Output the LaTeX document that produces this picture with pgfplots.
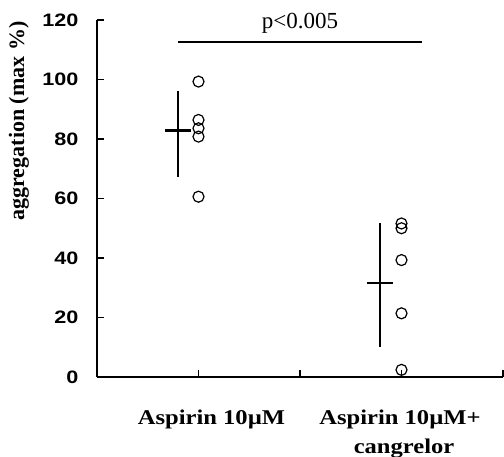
\documentclass[border=0pt]{standalone}
\usepackage{fontspec}
\setmainfont{Liberation Serif}
\newfontfamily\ticksans[FakeStretch=1.2]{Liberation Sans}
\newfontfamily\catserif[FakeStretch=1.17]{Liberation Serif}
\usepackage{pgfplots}
\pgfplotsset{compat=1.18}
\begin{document}
\begin{tikzpicture}[x=1pt,y=1pt]
  % donnees: agregation plaquettaire (max %)
  \begin{axis}[
      scale only axis,
      width=406pt, height=357pt,
      xmin=0, xmax=4, ymin=0, ymax=120,
      axis lines=left,
      axis line style={line width=2.2pt, -},
      xtick={1,2,3,4}, xticklabels={},
      ytick={0,20,...,120},
      tick style={line width=1.8pt, black},
      tick align=inside,
      major tick length=7pt,
      yticklabel style={font=\ticksans\bfseries\fontsize{18}{18}\selectfont, anchor=east, xshift=-15pt},
      /pgf/number format/assume math mode=true,
      clip=false,
    ]
    % points individuels
    \addplot[only marks, mark=o, mark size=5.5pt, mark options={line width=1.2pt}]
      coordinates {(1,99.3) (1,86.4) (1,83.6) (1,80.8) (1,60.6)};
    \addplot[only marks, mark=o, mark size=5.5pt, mark options={line width=1.2pt}]
      coordinates {(3,51.6) (3,50.0) (3,39.3) (3,21.4) (3,2.4)};
    % moyenne +/- ET
    \addplot[line width=2.4pt] coordinates {(0.80,67.3) (0.80,96.2)};
    \addplot[line width=2.4pt] coordinates {(0.67,82.8) (0.93,82.8)};
    \addplot[line width=2.4pt] coordinates {(2.79,10.2) (2.79,51.6)};
    \addplot[line width=2.4pt] coordinates {(2.66,31.5) (2.92,31.5)};
    % barre de significativite
    \addplot[line width=1.6pt] coordinates {(0.80,112.6) (3.20,112.6)};
    \node[font=\fontsize{23}{23}\selectfont, anchor=base] at (axis cs:2,117.3) {p<0.005};
    \node[font=\bfseries\fontsize{22}{22}\selectfont, xshift=-78pt, rotate=90]
      at (rel axis cs:0,0.717) {aggregation (max \%)};
    \node[font=\catserif\bfseries\fontsize{21}{21}\selectfont, anchor=base] at (axis cs:1.128,-16.1) {Aspirin 10µM};
    \node[font=\catserif\bfseries\fontsize{21}{21}\selectfont, anchor=base] at (axis cs:2.985,-16.1) {Aspirin 10µM+};
    \node[font=\catserif\bfseries\fontsize{21}{21}\selectfont, anchor=base] at (axis cs:3.025,-25.6) {cangrelor};
  \end{axis}
  \pgfresetboundingbox
  \path[use as bounding box] (-97,-80) rectangle (407,377);
\end{tikzpicture}
\end{document}
